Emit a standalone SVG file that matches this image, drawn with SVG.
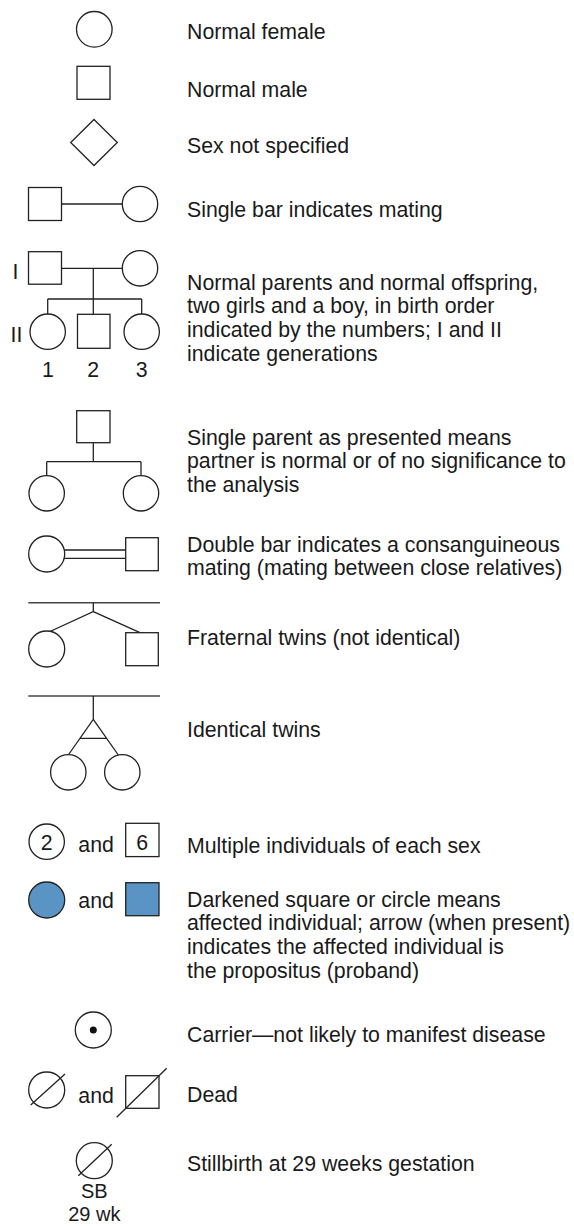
<svg xmlns="http://www.w3.org/2000/svg" width="574" height="1226" viewBox="0 0 574 1226">
<style>
.s{fill:#fff;stroke:#222;stroke-width:1.3}
.l{fill:none;stroke:#222;stroke-width:1.3}
.g{fill:none;stroke:#444;stroke-width:1.6}
.a{fill:#5a94c5;stroke:#222;stroke-width:1.3}
text{font-family:"Liberation Sans",Arial,sans-serif;font-size:21.3px;fill:#1a1a1a}
.c{text-anchor:middle}
.sb{font-size:20px}
</style>
<rect width="574" height="1226" fill="#fff"/>
<g id="female"><circle class="s" cx="94.3" cy="29.3" r="17.8"/><text x="187" y="39.3">Normal female</text></g>
<g id="male"><rect class="s" x="77" y="66.3" width="33" height="33"/><text x="187" y="96.7">Normal male</text></g>
<g id="unspecified"><polygon class="s" points="94,119.5 117.3,142.5 94,165.5 70.7,142.5"/><text x="187" y="153.3">Sex not specified</text></g>
<g id="mating">
<line class="l" x1="61.7" y1="204" x2="122.3" y2="204"/>
<rect class="s" x="28.5" y="187.5" width="33" height="33"/><circle class="s" cx="140" cy="204" r="17.7"/>
<text x="187" y="216.7">Single bar indicates mating</text></g>
<g id="family">
<path class="l" d="M61.7 268.3H122.3M93.3 268.3V299M47.7 299H141.7M47.7 299V314M93.3 299V314.3M141.7 299V314"/>
<rect class="s" x="28.5" y="251.7" width="33" height="32.5"/><circle class="s" cx="140" cy="268.3" r="17.7"/>
<circle class="s" cx="47.7" cy="331.7" r="17.7"/><rect class="s" x="77.5" y="314.3" width="32.5" height="34"/><circle class="s" cx="141.7" cy="331.7" r="17.7"/>
<text x="15.5" y="278.5" class="c">I</text><text x="16.5" y="342" class="c">II</text>
<text x="48" y="376.7" class="c">1</text><text x="93.3" y="376.7" class="c">2</text><text x="141.7" y="376.7" class="c">3</text>
<text x="187" y="289.5">Normal parents and normal offspring,</text>
<text x="187" y="313.2">two girls and a boy, in birth order</text>
<text x="187" y="336.9">indicated by the numbers; I and II</text>
<text x="187" y="360.6">indicate generations</text></g>
<g id="single-parent">
<path class="l" d="M93.3 442.7V461.7M46.7 461.7H141M46.7 461.7V476M141 461.7V476"/>
<rect class="s" x="76.7" y="410.7" width="33.3" height="32"/>
<circle class="s" cx="46.7" cy="493.3" r="17.7"/><circle class="s" cx="141" cy="493.3" r="17.7"/>
<text x="187" y="445">Single parent as presented means</text>
<text x="187" y="468.4">partner is normal or of no significance to</text>
<text x="187" y="491.8">the analysis</text></g>
<g id="consanguineous">
<path class="l" d="M63 550H125.7M63 558.3H125.7"/>
<circle class="s" cx="46.7" cy="554" r="18"/><rect class="s" x="125.7" y="537.7" width="32.6" height="33"/>
<text x="187" y="551.7">Double bar indicates a consanguineous</text>
<text x="187" y="575">mating (mating between close relatives)</text></g>
<g id="fraternal">
<path class="g" d="M28.3 602.7H160"/>
<path class="l" d="M93.3 602.7V611.7L50 631.5M93.3 611.7L140 632.7"/>
<circle class="s" cx="46.7" cy="649" r="18"/><rect class="s" x="125.7" y="632.7" width="32.6" height="33"/>
<text x="187" y="645">Fraternal twins (not identical)</text></g>
<g id="identical">
<path class="g" d="M28.3 696H160"/>
<path class="l" d="M93.3 696V719.3L68.3 755M93.3 719.3L118.3 755M80.2 738.3H106.4"/>
<circle class="s" cx="68.3" cy="772.3" r="17.7"/><circle class="s" cx="122.3" cy="772.3" r="17.7"/>
<text x="187" y="737.3">Identical twins</text></g>
<g id="multiple">
<circle class="s" cx="46.7" cy="841.7" r="17.7"/><text x="46.7" y="849.5" class="c">2</text>
<text x="78.3" y="852.3">and</text>
<rect class="s" x="125.7" y="823.3" width="33.3" height="33.3"/><text x="142.3" y="850" class="c">6</text>
<text x="187" y="852.7">Multiple individuals of each sex</text></g>
<g id="affected">
<circle class="a" cx="46.7" cy="900" r="18"/>
<text x="78.3" y="908.3">and</text>
<rect class="a" x="125.7" y="882.7" width="33.3" height="33"/>
<text x="187" y="906.7">Darkened square or circle means</text>
<text x="187" y="930.4">affected individual; arrow (when present)</text>
<text x="187" y="954.1">indicates the affected individual is</text>
<text x="187" y="977.8">the propositus (proband)</text></g>
<g id="carrier">
<circle class="s" cx="93.3" cy="1030" r="18"/><circle cx="93.3" cy="1030" r="3.5" fill="#111"/>
<text x="187" y="1042.3">Carrier—not likely to manifest disease</text></g>
<g id="dead">
<circle class="s" cx="46.7" cy="1090" r="18"/><line class="l" x1="30.7" y1="1105" x2="65" y2="1074"/>
<text x="78.3" y="1102.7">and</text>
<rect class="s" x="125.7" y="1075.7" width="33.3" height="32.6"/><line class="l" x1="116.7" y1="1117.3" x2="166.7" y2="1068.3"/>
<text x="187" y="1101.7">Dead</text></g>
<g id="stillbirth">
<circle class="s" cx="94.3" cy="1160.7" r="18"/><line class="l" x1="78.3" y1="1175.7" x2="111.7" y2="1144.3"/>
<text x="94.3" y="1198.3" class="c sb">SB</text><text x="94.3" y="1220.9" class="c sb">29 wk</text>
<text x="187" y="1171">Stillbirth at 29 weeks gestation</text></g>
</svg>
